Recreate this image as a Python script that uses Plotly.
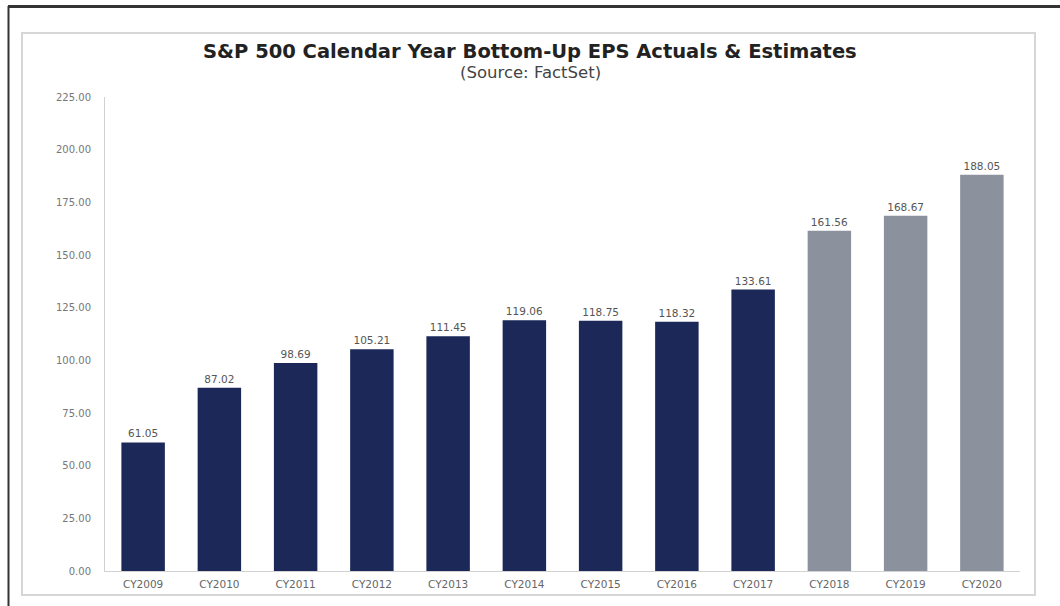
import plotly.graph_objects as go

categories = ["CY2009", "CY2010", "CY2011", "CY2012", "CY2013", "CY2014",
              "CY2015", "CY2016", "CY2017", "CY2018", "CY2019", "CY2020"]
eps_values = [61.05, 87.02, 98.69, 105.21, 111.45, 119.06,
              118.75, 118.32, 133.61, 161.56, 168.67, 188.05]
is_estimate = [False] * 9 + [True] * 3
tick_values = [0, 25, 50, 75, 100, 125, 150, 175, 200, 225]

NAVY = "#1b2858"
GRAY = "#8b929e"
colors = [GRAY if e else NAVY for e in is_estimate]

W, H = 1060, 606
L, R, T, B = 105, 40, 97, 35
PW, PH = W - L - R, H - T - B

FONT = "DejaVu Sans, Liberation Sans, Arial, sans-serif"


def px(x):
    return (x - L) / PW


def py(y):
    return (H - B - y) / PH


fig = go.Figure(go.Bar(
    x=categories, y=eps_values,
    marker=dict(color=colors, line=dict(width=0)),
    text=[f"{v:.2f}" for v in eps_values],
    textposition="outside",
    textfont=dict(family=FONT, size=10.5, color="#555"),
    cliponaxis=False,
    width=0.57,
    hoverinfo="x+y",
))

fig.update_layout(
    width=W, height=H,
    margin=dict(l=L, r=R, t=T, b=B),
    paper_bgcolor="white", plot_bgcolor="white",
    showlegend=False,
    font=dict(family=FONT, color="#555"),
    xaxis=dict(showline=True, linecolor="#d2d2d2", linewidth=1, showgrid=False,
               tickfont=dict(size=10.5, color="#666"), ticks="", ticklabelstandoff=3),
    yaxis=dict(range=[0, 225], tickvals=tick_values, tickformat=".2f",
               showline=True, linecolor="#d2d2d2", linewidth=1, showgrid=False,
               zeroline=False, ticks="", tickfont=dict(size=10, color="#777"),
               ticklabelstandoff=11),
    annotations=[
        dict(text="<b>S&P 500 Calendar Year Bottom-Up EPS Actuals & Estimates</b>",
             xref="paper", yref="paper", x=px(530), y=py(51), showarrow=False,
             font=dict(size=19.5, color="#222"), xanchor="center", yanchor="middle"),
        dict(text="(Source: FactSet)",
             xref="paper", yref="paper", x=px(530), y=py(73), showarrow=False,
             font=dict(size=16.5, color="#444"), xanchor="center", yanchor="middle"),
    ],
    shapes=[
        # inner chart frame
        dict(type="rect", xref="paper", yref="paper",
             x0=px(22), x1=px(1035), y0=py(595), y1=py(33),
             line=dict(color="#d6d6d6", width=2), layer="below"),
        # outer border (top and left)
        dict(type="line", xref="paper", yref="paper",
             x0=px(8), x1=px(1060), y0=py(6.5), y1=py(6.5),
             line=dict(color="#333", width=3)),
        dict(type="line", xref="paper", yref="paper",
             x0=px(8.5), x1=px(8.5), y0=py(6), y1=py(606),
             line=dict(color="#333", width=2)),
    ],
)

fig.write_html(
    "out.html",
    config={"displayModeBar": False},
    post_script="document.body.style.margin='0';document.body.style.overflow='hidden';",
)
